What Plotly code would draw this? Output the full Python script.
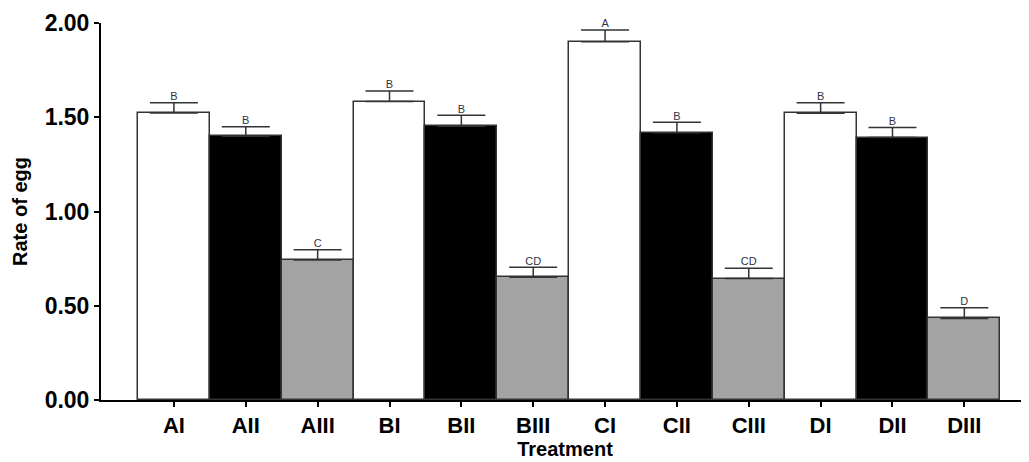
import plotly.graph_objects as go

categories = ["AI", "AII", "AIII", "BI", "BII", "BIII", "CI", "CII", "CIII", "DI", "DII", "DIII"]
means = [1.523, 1.399, 0.743, 1.583, 1.452, 0.651, 1.901, 1.418, 0.644, 1.521, 1.392, 0.433]
errors = [0.054, 0.051, 0.054, 0.056, 0.058, 0.053, 0.062, 0.055, 0.055, 0.056, 0.053, 0.057]
letters = ["B", "B", "C", "B", "B", "CD", "A", "B", "CD", "B", "B", "D"]
fill_colors = ["#ffffff", "#000000", "#a3a3a3"] * 4
y_ticks = [0.0, 0.5, 1.0, 1.5, 2.0]
y_tick_labels = ["0.00", "0.50", "1.00", "1.50", "2.00"]

font_family = "Arial, Liberation Sans, sans-serif"

fig = go.Figure()
fig.add_trace(go.Bar(
    x=categories, y=means,
    width=1.0,
    marker=dict(color=fill_colors, line=dict(color="#333333", width=1.5)),
    error_y=dict(type="data", array=errors, arrayminus=[0] * len(errors),
                 symmetric=False, color="#333333", thickness=1.5, width=24),
    showlegend=False,
))
fig.add_trace(go.Scatter(
    x=categories, y=[m + e for m, e in zip(means, errors)],
    mode="text", text=letters, textposition="top center",
    textfont=dict(family=font_family, size=11, color="#333344"),
    cliponaxis=False, showlegend=False,
))

fig.update_layout(
    width=1021, height=454,
    margin=dict(l=93, r=0, t=15, b=62),
    paper_bgcolor="white", plot_bgcolor="white",
    font=dict(family=font_family, color="black"),
    bargap=0,
    xaxis=dict(
        range=[-1.015, 11.9],
        showline=True, linecolor="black", linewidth=2,
        ticks="outside", ticklen=5, tickwidth=2, tickcolor="black",
        tickfont=dict(family=font_family, size=22, color="black", weight="bold"),
        title=dict(text="<b>Treatment</b>", font=dict(family=font_family, size=20, color="black"), standoff=2),
        showgrid=False, zeroline=False,
    ),
    yaxis=dict(
        range=[0, 2.0],
        tickvals=y_ticks, ticktext=y_tick_labels,
        showline=True, linecolor="black", linewidth=2,
        ticks="outside", ticklen=5, tickwidth=2, tickcolor="black",
        tickfont=dict(family=font_family, size=23, color="black", weight="bold"),
        title=dict(text="<b>Rate of egg</b>", font=dict(family=font_family, size=20, color="black"), standoff=12),
        showgrid=False, zeroline=False,
    ),
)

fig.write_html("out.html")
